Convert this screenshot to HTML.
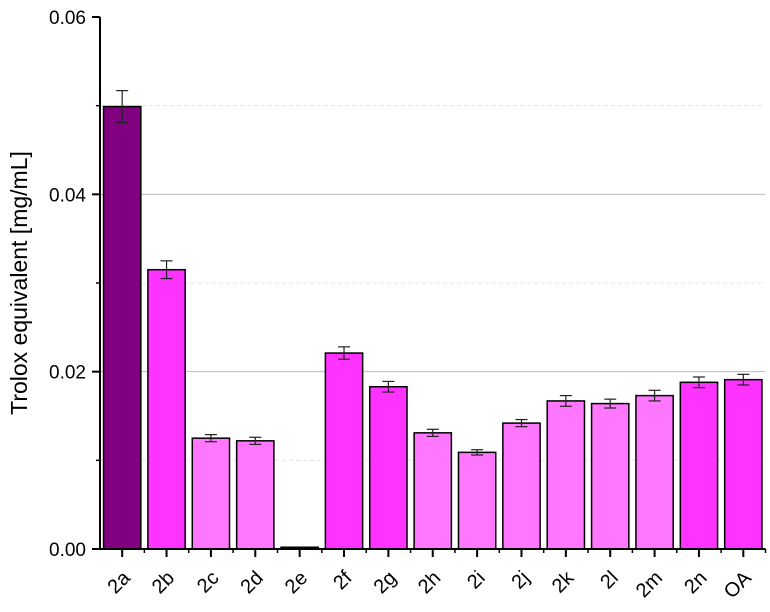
<!DOCTYPE html>
<html><head><meta charset="utf-8"><style>
body{margin:0;background:#fff}
svg{display:block;font-family:"Liberation Sans",Arial,sans-serif}
</style></head><body>
<svg id="chart" width="770" height="612" viewBox="0 0 770 612">
<g id="grid"></g>
<g id="bars"></g>
<g id="axes"></g>
<text transform="translate(27,283) rotate(-90)" text-anchor="middle" font-size="23" fill="#000">Trolox equivalent [mg/mL]</text>
</svg>
<script>
const categories=["2a","2b","2c","2d","2e","2f","2g","2h","2i","2j","2k","2l","2m","2n","OA"];
const values=[0.0499,0.0315,0.0125,0.0122,0.0002,0.0221,0.0183,0.0131,0.0109,0.0142,0.0167,0.0164,0.0173,0.0188,0.0191];
const errors=[0.0018,0.0010,0.0004,0.0004,0,0.0007,0.0006,0.0004,0.0003,0.0004,0.0006,0.0005,0.0006,0.0006,0.0006];
const colors=["#800080","#ff33ff","#ff77ff","#ff77ff","#ff77ff","#ff33ff","#ff33ff","#ff77ff","#ff77ff","#ff77ff","#ff77ff","#ff77ff","#ff77ff","#ff33ff","#ff33ff"];
const yTicks=[0,0.02,0.04,0.06];
const yTickLabels=["0.00","0.02","0.04","0.06"];
const yMinor=[0.01,0.03,0.05];
const NS="http://www.w3.org/2000/svg";
const x0=100,x1=765.5,yb=549,yt=17,ymax=0.06;
const bw=(x1-x0)/categories.length;
const y=v=>yb-(v/ymax)*(yb-yt);
const cx=i=>x0+bw*(i+0.5);
function mk(tag,at,parent){const e=document.createElementNS(NS,tag);for(const k in at)e.setAttribute(k,at[k]);parent.appendChild(e);return e;}
const grid=document.getElementById('grid'),bars=document.getElementById('bars'),axes=document.getElementById('axes');
yTicks.slice(1,3).forEach(v=>{const l=mk('line',{x1:x0,x2:x1,y1:y(v),y2:y(v),stroke:'#bbb','stroke-width':1},grid);

});
yMinor.forEach(v=>{const l=mk('line',{x1:x0,x2:x1,y1:y(v),y2:y(v),stroke:'#e4e4e4','stroke-width':1,'stroke-dasharray':'4,3'},grid);

});
values.forEach((v,i)=>{
const w=bw*0.84,top=y(v);
const r=mk('rect',{x:cx(i)-w/2,y:top,width:w,height:yb-top,fill:colors[i],stroke:'#000','stroke-width':1.5},bars);


if(errors[i]>0){const e=errors[i],g=mk('g',{stroke:'#222','stroke-width':1.2},bars);


mk('line',{x1:cx(i),x2:cx(i),y1:y(v+e),y2:y(v-e)},g);
mk('line',{x1:cx(i)-6,x2:cx(i)+6,y1:y(v+e),y2:y(v+e)},g);
mk('line',{x1:cx(i)-6,x2:cx(i)+6,y1:y(v-e),y2:y(v-e)},g);}
const t=mk('text',{x:0,y:0,'font-size':20,'text-anchor':'end',transform:`translate(${cx(i)+9},${yb+30}) rotate(-45)`},axes);
t.textContent=categories[i];


mk('line',{x1:cx(i),x2:cx(i),y1:yb,y2:yb+8,stroke:'#000','stroke-width':2},axes);
mk('line',{x1:x0+bw*(i+1),x2:x0+bw*(i+1),y1:yb,y2:yb+4,stroke:'#000','stroke-width':1.5},axes);
});
const ax=mk('line',{x1:x0,x2:x1,y1:yb,y2:yb,stroke:'#000','stroke-width':2},axes);


const ay=mk('line',{x1:x0,x2:x0,y1:yt,y2:yb,stroke:'#000','stroke-width':2},axes);


yTicks.forEach((v,i)=>{mk('line',{x1:x0-8,x2:x0,y1:y(v),y2:y(v),stroke:'#000','stroke-width':2},axes);
const t=mk('text',{x:x0-14,y:y(v)+7,'font-size':19,'text-anchor':'end'},axes);
t.textContent=yTickLabels[i];

});
yMinor.forEach(v=>mk('line',{x1:x0-4,x2:x0,y1:y(v),y2:y(v),stroke:'#000','stroke-width':1.5},axes));
</script>
</body></html>
